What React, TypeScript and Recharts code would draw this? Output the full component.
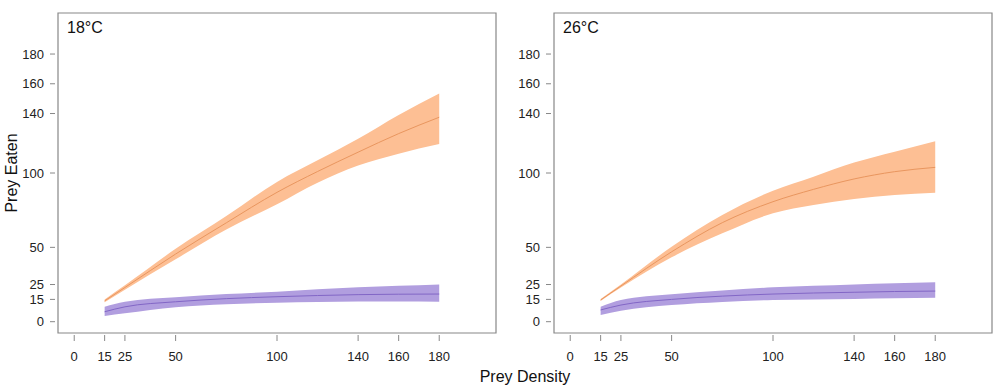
import React from 'react';
import { ComposedChart, Area, Line, XAxis, YAxis, ReferenceArea } from 'recharts';

const density = [15, 25, 50, 75, 100, 120, 140, 160, 180];
const xTicks = [0, 15, 25, 50, 100, 140, 160, 180];
const yTicks = [0, 15, 25, 50, 100, 140, 160, 180];

// 18°C
const orange18 = [14, 23, 45.5, 66.5, 87, 101, 114, 126.5, 137.5];
const orange18Lo = [13, 21.5, 42, 62, 79, 93.5, 105, 113, 119.5];
const orange18Hi = [15, 24.5, 49, 71, 94, 108.5, 123, 139, 153.5];
const purple18 = [6.7, 10, 13.4, 15.5, 16.8, 17.6, 18.2, 18.5, 18.6];
const purple18Lo = [3.8, 5.6, 9.7, 11.8, 12.8, 13.3, 13.6, 13.6, 13.4];
const purple18Hi = [10, 13.4, 16.4, 18.6, 20.2, 21.8, 23.1, 24.2, 25.1];

// 26°C
const orange26 = [14.6, 24, 47, 66.6, 80.7, 89, 96, 100.9, 103.8];
const orange26Lo = [14, 23, 43.3, 59.4, 72.9, 78.5, 82.5, 85.2, 86.8];
const orange26Hi = [15.2, 25, 50.4, 71.8, 88.1, 97.5, 107, 114.3, 121.3];
const purple26 = [7.9, 11.2, 15, 17.2, 18.6, 19.3, 19.8, 20.3, 20.6];
const purple26Lo = [4.5, 7.4, 11.2, 13.3, 14.6, 15, 15.3, 15.7, 16.1];
const purple26Hi = [10, 14.6, 18.4, 21, 23.1, 24.2, 25.1, 25.8, 26.5];

const FONT = '"Liberation Sans", Arial, sans-serif';
const X_DOMAIN: [number, number] = [-8, 208];
const Y_DOMAIN: [number, number] = [-7.6, 207.6];

function build(o: number[], oLo: number[], oHi: number[], p: number[], pLo: number[], pHi: number[]) {
  return density.map((x, i) => ({
    x,
    orange: o[i],
    orangeBand: [oLo[i], oHi[i]],
    purple: p[i],
    purpleBand: [pLo[i], pHi[i]],
  }));
}

const YTick = (props: any) => {
  const { x, y, payload } = props;
  return (
    <g>
      <line x1={x - 8} x2={x - 3} y1={y} y2={y} stroke="#888" />
      <text x={x - 14} y={y} dy={4.5} textAnchor="end" fontSize={13} fill="#222" fontFamily={FONT}>
        {payload.value}
      </text>
    </g>
  );
};

const XTick = (props: any) => {
  const { x, y, payload } = props;
  return (
    <g>
      <line x1={x} x2={x} y1={y + 2} y2={y + 8} stroke="#888" />
      <text x={x} y={y + 28} textAnchor="middle" fontSize={13} fill="#222" fontFamily={FONT}>
        {payload.value}
      </text>
    </g>
  );
};

function Panel({ data, title, left, margin }: any) {
  return (
    <div style={{ position: 'absolute', left, top: 0 }}>
      <ComposedChart width={500} height={392} data={data} margin={margin}>
        <XAxis
          dataKey="x"
          type="number"
          domain={X_DOMAIN}
          ticks={xTicks}
          allowDataOverflow
          axisLine={false}
          tickLine={false}
          tickSize={0}
          tickMargin={0}
          height={40}
          tick={<XTick />}
          interval={0}
        />
        <YAxis
          type="number"
          domain={Y_DOMAIN}
          ticks={yTicks}
          allowDataOverflow
          axisLine={false}
          tickLine={false}
          tickSize={0}
          tickMargin={0}
          width={40}
          tick={<YTick />}
          interval={0}
        />
        <ReferenceArea x1={X_DOMAIN[0]} x2={X_DOMAIN[1]} y1={Y_DOMAIN[0]} y2={Y_DOMAIN[1]} fill="none" stroke="#888" strokeWidth={1.2} />
        <Area dataKey="orangeBand" type="monotone" fill="#fdbf94" fillOpacity={1} stroke="none" isAnimationActive={false} />
        <Line dataKey="orange" type="monotone" stroke="#e9965f" strokeWidth={1} dot={false} isAnimationActive={false} />
        <Area dataKey="purpleBand" type="monotone" fill="#b19edf" fillOpacity={1} stroke="none" isAnimationActive={false} />
        <Line dataKey="purple" type="monotone" stroke="#8266c6" strokeWidth={1} dot={false} isAnimationActive={false} />
      </ComposedChart>
      <div style={{ position: 'absolute', left: margin.left + 49, top: 19, fontFamily: FONT, fontSize: 16, color: '#111' }}>{title}</div>
    </div>
  );
}

export default function App() {
  const d18 = build(orange18, orange18Lo, orange18Hi, purple18, purple18Lo, purple18Hi);
  const d26 = build(orange26, orange26Lo, orange26Hi, purple26, purple26Lo, purple26Hi);
  return (
    <div style={{ position: 'absolute', left: 0, top: 0, width: 1000, height: 392, background: '#fff', overflow: 'hidden' }}>
      <Panel data={d18} title="18°C" left={0} margin={{ top: 13, right: 4, bottom: 19, left: 18 }} />
      <Panel data={d26} title="26°C" left={500} margin={{ top: 13, right: 8, bottom: 19, left: 14 }} />
      <div
        style={{
          position: 'absolute',
          left: 12,
          top: 173,
          transform: 'translate(-50%, -50%) rotate(-90deg)',
          fontFamily: FONT,
          fontSize: 16,
          color: '#111',
          whiteSpace: 'nowrap',
        }}
      >
        Prey Eaten
      </div>
      <div
        style={{
          position: 'absolute',
          left: 525,
          top: 368,
          transform: 'translateX(-50%)',
          fontFamily: FONT,
          fontSize: 16,
          color: '#111',
          whiteSpace: 'nowrap',
        }}
      >
        Prey Density
      </div>
    </div>
  );
}
